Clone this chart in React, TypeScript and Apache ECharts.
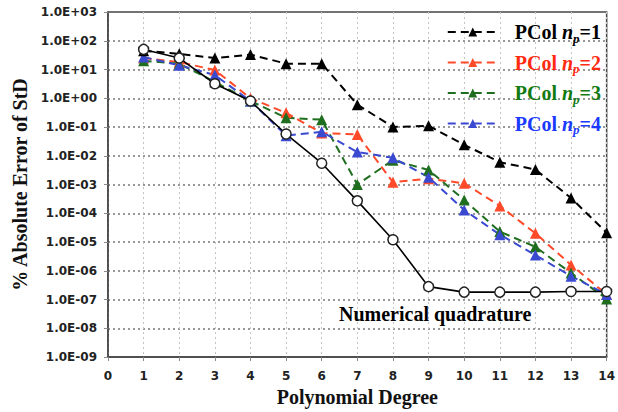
import React, { useEffect, useRef } from "react";
import * as echarts from "echarts";

// Polynomial degree on the x axis
const degrees = [1, 2, 3, 4, 5, 6, 7, 8, 9, 10, 11, 12, 13, 14];

// % absolute error of the standard deviation
const quadrature = [50, 25, 3.2, 0.8, 0.057, 0.0055, 2.7e-4, 1.2e-5, 2.8e-7, 1.8e-7, 1.8e-7, 1.8e-7, 1.9e-7, 1.9e-7];
const pcolNp1 = [45, 35, 25, 33, 16, 16, 0.6, 0.1, 0.11, 0.024, 0.006, 0.0033, 3.4e-4, 2.1e-5];
const pcolNp2 = [25, 18, 9.6, 1.0, 0.31, 0.062, 0.055, 0.0012, 0.0016, 0.0011, 1.8e-4, 2e-5, 1.6e-6, 1.5e-7];
const pcolNp3 = [20, 16, 3.7, 0.8, 0.21, 0.18, 0.001, 0.007, 0.0032, 2.9e-4, 2.3e-5, 6.8e-6, 8.3e-7, 1.05e-7];
const pcolNp4 = [27, 14, 6.4, 0.8, 0.05, 0.068, 0.0135, 0.0085, 0.0018, 1.3e-4, 1.8e-5, 3.5e-6, 6.5e-7, 1.5e-7];

const pcolNames = ["PCol np=1", "PCol np=2", "PCol np=3", "PCol np=4"];
const pcolValues = [pcolNp1, pcolNp2, pcolNp3, pcolNp4];
const lineColors = ["#000000", "#ff4a2a", "#1f6e1f", "#3a4ad0"];
const textColors = ["#000000", "#ff2a10", "#127a12", "#1a3aff"];

const SERIF = '"Liberation Serif", "Times New Roman", serif';
const SANS = '"DejaVu Sans", Verdana, sans-serif';

const expLabel = (v: number) => {
  const e = Math.round(Math.log10(v));
  const sign = e < 0 ? "-" : "+";
  return `1.0E${sign}${String(Math.abs(e)).padStart(2, "0")}`;
};

export default function App() {
  const ref = useRef<HTMLDivElement>(null);

  useEffect(() => {
    document.body.style.margin = "0";
    if (!ref.current) return;
    const chart = echarts.init(ref.current, undefined, { renderer: "svg" });

    const rich: Record<string, any> = {};
    textColors.forEach((c, i) => {
      const base = { color: c, fontFamily: SERIF, fontWeight: "bold", fontSize: 20 };
      rich[`t${i}`] = { ...base, padding: [0, 0, 0, 12] };
      rich[`n${i}`] = { ...base, fontStyle: "italic" };
      rich[`s${i}`] = { ...base, fontStyle: "italic", fontSize: 13, padding: [12, 0, 0, 0] };
      rich[`e${i}`] = { ...base };
    });

    const pcolSeries = pcolNames.map((name, i) => ({
      name,
      type: "line",
      data: degrees.map((d, k) => [d, pcolValues[i][k]]),
      symbol: "triangle",
      symbolSize: 11,
      lineStyle: { color: lineColors[i], width: 2, type: [8, 5] },
      itemStyle: { color: lineColors[i] },
      z: i === 0 ? 4 : 3,
    }));
    // draw np=1 above the others
    const drawOrder = [pcolSeries[1], pcolSeries[2], pcolSeries[3], pcolSeries[0]];

    chart.setOption({
      animation: false,
      backgroundColor: "#ffffff",
      grid: {
        left: 108,
        right: 8,
        top: 12,
        bottom: 55,
        show: true,
        borderColor: "#444",
        borderWidth: 1.5,
      },
      legend: {
        data: pcolNames,
        orient: "vertical",
        right: 12,
        top: 17,
        itemWidth: 50,
        itemHeight: 11,
        itemGap: 8,
        formatter: (name: string) => {
          const i = pcolNames.indexOf(name);
          return `{t${i}|PCol }{n${i}|n}{s${i}|p}{e${i}|=${i + 1}}`;
        },
        textStyle: { rich },
      },
      xAxis: {
        type: "value",
        min: 0,
        max: 14,
        interval: 1,
        name: "Polynomial Degree",
        nameLocation: "middle",
        nameGap: 29,
        nameTextStyle: { fontFamily: SERIF, fontWeight: "bold", fontSize: 20, color: "#111" },
        axisLine: { lineStyle: { color: "#444", width: 1.5 } },
        axisTick: { show: true, length: 4, lineStyle: { color: "#888" } },
        axisLabel: { fontFamily: SANS, fontWeight: "bold", fontSize: 12, color: "#222", margin: 13 },
        splitLine: { show: true, lineStyle: { color: "#c4c4c4", type: [2, 3], width: 1 } },
      },
      yAxis: {
        type: "log",
        logBase: 10,
        min: 1e-9,
        max: 1e3,
        interval: 1,
        splitNumber: 12,
        name: "% Absolute Error of StD",
        nameLocation: "middle",
        nameGap: 78,
        nameTextStyle: { fontFamily: SERIF, fontWeight: "bold", fontSize: 20, color: "#111" },
        axisLine: { show: true, lineStyle: { color: "#444", width: 1.5 } },
        axisTick: { show: true, length: 4, lineStyle: { color: "#888" } },
        axisLabel: {
          fontFamily: SANS,
          fontWeight: "bold",
          fontSize: 12,
          color: "#222",
          margin: 11,
          formatter: (v: number) => expLabel(v),
        },
        splitLine: { show: true, lineStyle: { color: "#777", type: [2, 3], width: 1.5 } },
      },
      graphic: [
        {
          type: "text",
          left: 339,
          top: 304,
          style: {
            text: "Numerical quadrature",
            fontFamily: SERIF,
            fontWeight: "bold",
            fontSize: 20,
            fill: "#000",
          },
          z: 10,
        },
      ],
      series: [
        ...drawOrder,
        {
          name: "Numerical quadrature",
          type: "line",
          data: degrees.map((d, k) => [d, quadrature[k]]),
          symbol: "circle",
          symbolSize: 10,
          lineStyle: { color: "#000", width: 1.6 },
          itemStyle: { color: "#fff", borderColor: "#222", borderWidth: 1.5 },
          z: 5,
        },
      ],
    });

    return () => chart.dispose();
  }, []);

  return <div ref={ref} style={{ width: 618, height: 412 }} />;
}
